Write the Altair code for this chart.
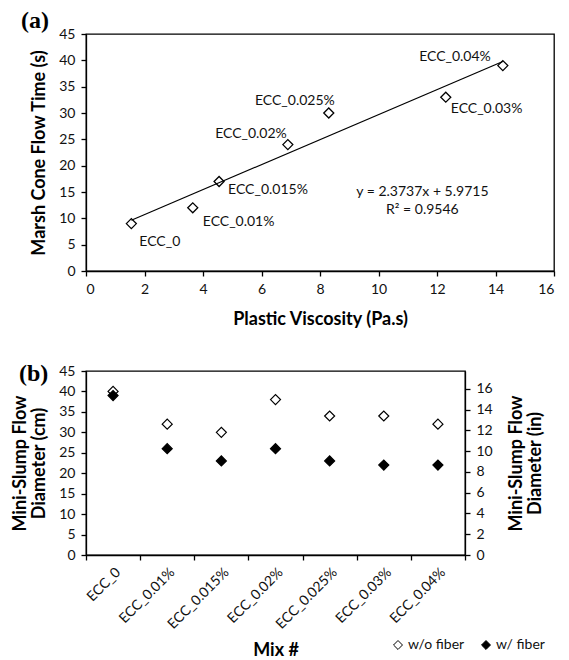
import altair as alt
import pandas as pd

# ---------------- data ----------------
mixes = ["ECC_0", "ECC_0.01%", "ECC_0.015%", "ECC_0.02%", "ECC_0.025%", "ECC_0.03%", "ECC_0.04%"]
plastic_viscosity = [1.55, 3.65, 4.55, 6.9, 8.3, 12.3, 14.25]
marsh_time = [9, 12, 17, 24, 30, 33, 39]
slump_wo_fiber = [40, 32, 30, 38, 34, 34, 32]
slump_w_fiber = [39, 26, 23, 26, 23, 22, 22]
series_names = ["w/o fiber", "w/ fiber"]
x_ticks_a = list(range(0, 17, 2))
y_ticks_a = list(range(0, 46, 5))
y_ticks_b = list(range(0, 46, 5))
y_ticks_in = list(range(0, 17, 2))
fit_text = "y = 2.3737x + 5.9715\nR² = 0.9546"
CM_PER_IN = 2.54

FONT = "Lato"
SERIF = "Liberation Serif"
INK = "#111111"

# ---------------- panel (a) ----------------
dfa = pd.DataFrame({"mix": mixes, "pv": plastic_viscosity, "t": marsh_time})

sx_a = alt.Scale(domain=[0, 16], nice=False)
sy_a = alt.Scale(domain=[0, 45], nice=False)
ax_a = alt.Axis(values=x_ticks_a, title="Plastic Viscosity (Pa.s)", labelPadding=6, titlePadding=14)
ay_a = alt.Axis(values=y_ticks_a, title="Marsh Cone Flow Time (s)", labelPadding=6, titlePadding=10)

xa = alt.X("pv:Q", scale=sx_a, axis=ax_a)
ya = alt.Y("t:Q", scale=sy_a, axis=ay_a)

pts_a = alt.Chart(dfa).mark_point(
    shape="diamond", size=100, filled=False, stroke="black", strokeWidth=1.3, opacity=1
).encode(x=xa, y=ya)

fit_a = alt.Chart(dfa).transform_regression("pv", "t").mark_line(
    color="black", strokeWidth=1.2
).encode(x=xa, y=ya)

label_style = {
    "ECC_0": ("left", 8, 18),
    "ECC_0.01%": ("left", 10, 14),
    "ECC_0.015%": ("left", 9, 9),
    "ECC_0.02%": ("right", -1, -11),
    "ECC_0.025%": ("right", 6, -12),
    "ECC_0.03%": ("left", 5, 12),
    "ECC_0.04%": ("right", -12, -9),
}
label_layers = []
for m, (al, dx, dy) in label_style.items():
    label_layers.append(
        alt.Chart(dfa).transform_filter(alt.datum.mix == m).mark_text(
            align=al, baseline="middle", dx=dx, dy=dy, fontSize=14, font=FONT, color=INK
        ).encode(x=xa, y=ya, text="mix:N")
    )

eq_a = alt.Chart(pd.DataFrame({"txt": [fit_text]})).mark_text(
    align="center", baseline="middle", lineBreak="\n", lineHeight=18,
    fontSize=14, font=FONT, color=INK
).encode(
    x=alt.X(datum=11.5, type="quantitative", scale=sx_a, axis=ax_a),
    y=alt.Y(datum=15.0, type="quantitative", scale=sy_a, axis=ay_a),
    text="txt:N",
)

tag_a = alt.Chart(pd.DataFrame({"tag": ["(a)"]})).mark_text(
    align="left", baseline="alphabetic", font=SERIF, fontWeight="bold", fontSize=24, color="black"
).encode(x=alt.value(-65), y=alt.value(-6), text="tag:N")

panel_a = alt.layer(pts_a, fit_a, *label_layers, eq_a, tag_a).properties(width=468, height=237)

# ---------------- panel (b) ----------------
rows = []
for s, vals in zip(series_names, [slump_wo_fiber, slump_w_fiber]):
    for i, m in enumerate(mixes):
        rows.append({"idx": i, "mix": m, "series": s, "val": vals[i]})
dfb = pd.DataFrame(rows)

base_b = alt.Chart(dfb).transform_calculate(pos="datum.idx + 0.5")

xb_ticks = alt.X("pos:Q", scale=alt.Scale(domain=[0, len(mixes)], nice=False),
                 axis=alt.Axis(values=list(range(len(mixes) + 1)), labels=False, title=None,
                               orient="bottom"))
yb_left = alt.Y("val:Q", scale=alt.Scale(domain=[0, 45], nice=False),
                axis=alt.Axis(values=y_ticks_b, title=["Mini-Slump Flow", "Diameter (cm)"],
                              titleLineHeight=19, labelPadding=6, titlePadding=10))

pts_b = base_b.mark_point(
    shape="diamond", size=100, filled=True, stroke="black", strokeWidth=1.2, opacity=1
).encode(
    x=xb_ticks, y=yb_left,
    fill=alt.Fill("series:N", scale=alt.Scale(domain=series_names, range=["white", "black"]),
                  legend=alt.Legend(title=None, orient="none", legendX=305, legendY=604,
                                    direction="horizontal", symbolType="diamond",
                                    symbolStrokeColor="black", symbolStrokeWidth=1,
                                    symbolSize=80, labelFont=FONT, labelFontSize=14,
                                    labelColor=INK, columnPadding=14, labelOffset=3)),
    order=alt.Order("idx:Q"),
)

mix_array = "[" + ",".join("'" + m + "'" for m in mixes) + "]"
xb_labels = alt.X("pos:Q",
                  axis=alt.Axis(values=[i + 0.5 for i in range(len(mixes))],
                                labelExpr=mix_array + "[floor(datum.value)]",
                                ticks=False, domain=False, labelAngle=-45, labelPadding=10,
                                title="Mix #", titlePadding=10, orient="bottom"))
yb_right = alt.Y("val:Q",
                 axis=alt.Axis(orient="right", values=[v * CM_PER_IN for v in y_ticks_in],
                               labelExpr="format(datum.value / 2.54, '.0f')",
                               title=["Mini-Slump Flow", "Diameter (in)"], titleAngle=270,
                               titleLineHeight=19, labelPadding=6, titlePadding=14))
ghost_b = base_b.mark_point(opacity=0).encode(x=xb_labels, y=yb_right)

tag_b = alt.Chart(pd.DataFrame({"tag": ["(b)"]})).mark_text(
    align="left", baseline="alphabetic", font=SERIF, fontWeight="bold", fontSize=24, color="black"
).encode(x=alt.value(-67), y=alt.value(10), text="tag:N")

panel_b = alt.layer(pts_b, ghost_b, tag_b).resolve_axis(
    x="independent", y="independent"
).properties(width=379, height=184)

chart = alt.vconcat(panel_a, panel_b, spacing=32).properties(
    padding={"left": 3, "top": 0, "right": 0, "bottom": 0}
).configure_axis(
    grid=False, domainColor="black", tickColor="black", domainWidth=1.3, tickWidth=1.3,
    tickSize=5, labelColor=INK, labelFont=FONT, labelFontSize=14, labelOverlap=False,
    titleFont=FONT, titleFontSize=18, titleFontWeight="bold", titleColor="black",
).configure_view(stroke="black", strokeWidth=1.3)

chart.save("out.html", embed_options={"renderer": "svg", "actions": False})
